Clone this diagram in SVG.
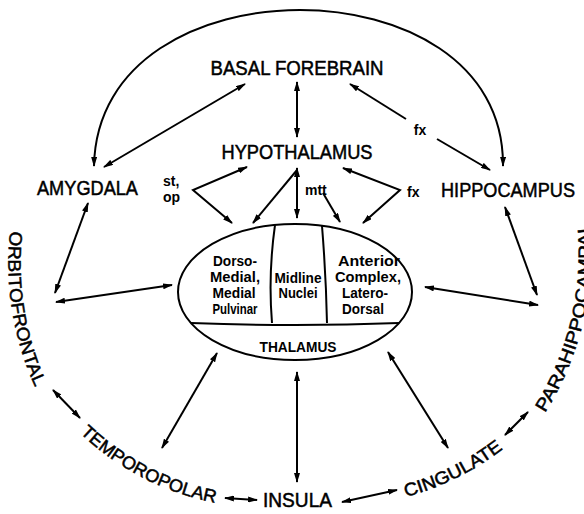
<svg xmlns="http://www.w3.org/2000/svg" width="584" height="514" viewBox="0 0 584 514">
<defs>
<style>
.lbl{font-family:"Liberation Sans Narrow","Liberation Sans",Arial,sans-serif;font-size:20px;fill:#000;stroke:#000;stroke-width:0.5}
.ring{font-family:"Liberation Sans Narrow","Liberation Sans",Arial,sans-serif;font-size:18px;fill:#000;stroke:#000;stroke-width:0.5}
.sm{font-family:"Liberation Sans Narrow","Liberation Sans",Arial,sans-serif;font-size:14px;font-weight:bold;fill:#000}
.th{font-family:"Liberation Sans Narrow","Liberation Sans",Arial,sans-serif;font-size:14px;font-weight:bold;fill:#000;text-anchor:middle}
.c{fill:none;stroke:#000;stroke-width:2}
.a2{marker-start:url(#ah);marker-end:url(#ah)}
.a1{marker-end:url(#ah)}
.sh{fill:none;stroke:#000;stroke-width:2}
</style>
<marker id="ah" viewBox="0 0 10 6" refX="9" refY="3" markerWidth="10" markerHeight="6" orient="auto-start-reverse" markerUnits="userSpaceOnUse">
<path d="M0,0 L10,3 L0,6 z" fill="#000"/>
</marker>
<path id="p-orb" d="M 10 231 A 300 300 0 0 0 37 391"/>
<path id="p-temp" d="M 80 433 A 270 270 0 0 0 216 503"/>
<path id="p-cing" d="M 406 497 A 280 280 0 0 0 503 449"/>
<path id="p-para" d="M 545 413 A 300 300 0 0 0 589 218"/>
</defs>
<rect width="584" height="514" fill="#fff"/>

<g id="connectors">
<path class="c a2" d="M 94 166 C 96 60 200 10 300 10 C 400 10 504 60 503 166"/>
<path class="c a2" d="M 245 84 L 104 167"/>
<path class="c a2" d="M 297 82 L 297 137"/>
<path class="c a1" d="M 406 119 L 350 84"/>
<path class="c a1" d="M 437 139 L 490 170"/>
<path class="c a2" d="M 88 203 L 55 293"/>
<path class="c a2" d="M 56 302 L 172 285"/>
<path class="c a2" d="M 53 390 L 80 418"/>
<path class="c a2" d="M 162 448 L 217 353"/>
<path class="c a2" d="M 225 498 L 257 500"/>
<path class="c a2" d="M 297 372 L 297 482"/>
<path class="c a2" d="M 342 502 L 397 490"/>
<path class="c a2" d="M 448 448 L 388 352"/>
<path class="c a2" d="M 505 435 L 528 412"/>
<path class="c a2" d="M 505 207 L 537 295"/>
<path class="c a2" d="M 425 287 L 538 305"/>
<path class="c a2" d="M 247 167 L 193 190 L 232 223"/>
<path class="c a2" d="M 343 168 L 400 190 L 363 223"/>
<path class="c a1" d="M 297 170 L 253 223"/>
<path class="c a2" d="M 297 168 L 297 218"/>
<path class="c a1" d="M 323 193 L 340 222"/>
<text class="sm" x="420" y="135" text-anchor="middle">fx</text>
<text class="sm" x="163" y="186">st,</text>
<text class="sm" x="163" y="202">op</text>
<text class="sm" x="305" y="195">mtt</text>
<text class="sm" x="407" y="197">fx</text>
</g>

<g id="basal-forebrain"><text class="lbl" x="297" y="75" text-anchor="middle" textLength="173" lengthAdjust="spacingAndGlyphs">BASAL FOREBRAIN</text></g>
<g id="hypothalamus"><text class="lbl" x="297" y="159" text-anchor="middle" textLength="151" lengthAdjust="spacingAndGlyphs">HYPOTHALAMUS</text></g>
<g id="amygdala"><text class="lbl" x="87.5" y="195" text-anchor="middle" textLength="101" lengthAdjust="spacingAndGlyphs">AMYGDALA</text></g>
<g id="hippocampus"><text class="lbl" x="508" y="197" text-anchor="middle" textLength="134" lengthAdjust="spacingAndGlyphs">HIPPOCAMPUS</text></g>

<g id="thalamus">
<ellipse class="sh" cx="295" cy="292" rx="117" ry="68"/>
<path class="sh" d="M 275 225 Q 268 275 272 323"/>
<path class="sh" d="M 322 226 Q 326 275 327 323"/>
<path class="sh" d="M 191 323 Q 295 327 399 323"/>
<text class="th" x="235" y="266" textLength="44" lengthAdjust="spacingAndGlyphs">Dorso-</text>
<text class="th" x="235" y="282" textLength="50" lengthAdjust="spacingAndGlyphs">Medial,</text>
<text class="th" x="234" y="298" textLength="43" lengthAdjust="spacingAndGlyphs">Medial</text>
<text class="th" x="235" y="314" textLength="45" lengthAdjust="spacingAndGlyphs">Pulvinar</text>
<text class="th" x="298" y="283" textLength="47" lengthAdjust="spacingAndGlyphs">Midline</text>
<text class="th" x="298" y="298" textLength="39" lengthAdjust="spacingAndGlyphs">Nuclei</text>
<text class="th" x="369" y="266" textLength="62" lengthAdjust="spacingAndGlyphs">Anterior</text>
<text class="th" x="368" y="282" textLength="66" lengthAdjust="spacingAndGlyphs">Complex,</text>
<text class="th" x="365" y="298" textLength="46" lengthAdjust="spacingAndGlyphs">Latero-</text>
<text class="th" x="363" y="314" textLength="42" lengthAdjust="spacingAndGlyphs">Dorsal</text>
<text class="th" x="298" y="352" textLength="77" lengthAdjust="spacingAndGlyphs">THALAMUS</text>
</g>

<g id="orbitofrontal"><text class="ring"><textPath href="#p-orb" textLength="160" lengthAdjust="spacingAndGlyphs">ORBITOFRONTAL</textPath></text></g>
<g id="temporopolar"><text class="ring"><textPath href="#p-temp" textLength="154" lengthAdjust="spacingAndGlyphs">TEMPOROPOLAR</textPath></text></g>
<g id="insula"><text class="lbl" x="297.5" y="507" text-anchor="middle" textLength="69" lengthAdjust="spacingAndGlyphs">INSULA</text></g>
<g id="cingulate"><text class="ring"><textPath href="#p-cing" textLength="109" lengthAdjust="spacingAndGlyphs">CINGULATE</textPath></text></g>
<g id="parahippocampal"><text class="ring"><textPath href="#p-para" textLength="200" lengthAdjust="spacingAndGlyphs">PARAHIPPOCAMPAL</textPath></text></g>
</svg>
